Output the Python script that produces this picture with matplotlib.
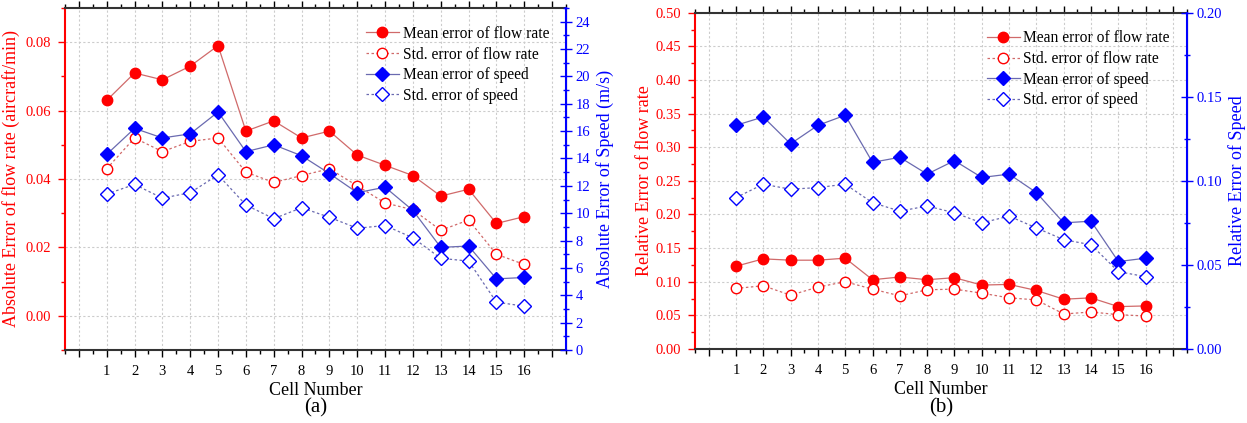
import matplotlib
matplotlib.use("Agg")
import matplotlib.pyplot as plt
from matplotlib.ticker import MultipleLocator, FixedLocator, FormatStrFormatter

plt.rcParams['font.family'] = ['Liberation Serif', 'DejaVu Serif']

cells = list(range(1, 17))

# Panel (a): absolute errors
abs_flow_mean = [0.063, 0.071, 0.069, 0.073, 0.079, 0.054, 0.057, 0.052,
                 0.054, 0.047, 0.044, 0.041, 0.035, 0.037, 0.027, 0.029]
abs_flow_std = [0.043, 0.052, 0.048, 0.051, 0.052, 0.042, 0.039, 0.041,
                0.043, 0.038, 0.033, 0.031, 0.025, 0.028, 0.018, 0.015]
abs_speed_mean = [14.3, 16.2, 15.5, 15.8, 17.4, 14.5, 15.0, 14.2,
                  12.9, 11.5, 11.9, 10.2, 7.5, 7.6, 5.2, 5.3]
abs_speed_std = [11.4, 12.1, 11.1, 11.5, 12.8, 10.6, 9.6, 10.4,
                 9.7, 8.9, 9.1, 8.2, 6.7, 6.5, 3.5, 3.2]

# Panel (b): relative errors
rel_flow_mean = [0.123, 0.134, 0.132, 0.132, 0.135, 0.103, 0.107, 0.103,
                 0.106, 0.095, 0.096, 0.087, 0.074, 0.076, 0.063, 0.064]
rel_flow_std = [0.090, 0.094, 0.080, 0.092, 0.100, 0.089, 0.079, 0.088,
                0.089, 0.083, 0.076, 0.073, 0.052, 0.055, 0.051, 0.049]
rel_speed_mean = [0.133, 0.138, 0.122, 0.133, 0.139, 0.111, 0.114, 0.104,
                  0.112, 0.102, 0.104, 0.093, 0.075, 0.076, 0.052, 0.054]
rel_speed_std = [0.090, 0.098, 0.095, 0.096, 0.098, 0.087, 0.082, 0.085,
                 0.081, 0.075, 0.079, 0.072, 0.065, 0.062, 0.046, 0.043]

legend_labels = ["Mean error of flow rate", "Std. error of flow rate",
                 "Mean error of speed", "Std. error of speed"]

RED = '#ff0000'
BLUE = '#0000ff'
RED_LINE = '#d06a6a'
BLUE_LINE = '#6a6ab0'
GRID = '#cccccc'
TICK_FS = 10.5

fig = plt.figure(figsize=(12.47, 4.23), dpi=100)


def style_common(ax, ax2):
    ax.set_xlim(-0.5, 17.5)
    ax.xaxis.set_major_locator(FixedLocator(list(range(0, 18))))
    ax.xaxis.set_minor_locator(FixedLocator([i + 0.5 for i in range(-1, 18)]))
    ax.set_xticklabels([''] + [str(c) for c in cells] + [''])
    ax.tick_params(axis='x', which='major', direction='out', length=5, width=1,
                   labelsize=TICK_FS, top=True, pad=6)
    ax.tick_params(axis='x', which='minor', direction='out', length=3, width=1,
                   top=True)
    ax.grid(True, which='major', color=GRID, linestyle=(0, (2, 2)), linewidth=0.8)
    ax.set_axisbelow(True)
    ax.spines['left'].set_color(RED)
    ax.spines['left'].set_linewidth(1.5)
    ax.spines['bottom'].set_linewidth(1.5)
    ax.spines['top'].set_linewidth(1.5)
    ax.spines['bottom'].set_color('#333333')
    ax.spines['top'].set_color('#333333')
    ax.tick_params(axis='y', which='both', colors=RED, labelcolor=RED,
                   labelsize=TICK_FS, pad=5)
    ax.tick_params(axis='y', which='major', length=5, width=1)
    ax.tick_params(axis='y', which='minor', length=3, width=1)
    ax2.spines['right'].set_color(BLUE)
    ax2.spines['right'].set_linewidth(1.5)
    ax2.spines['left'].set_visible(False)
    ax2.spines['top'].set_visible(False)
    ax2.spines['bottom'].set_visible(False)
    ax2.tick_params(axis='y', which='both', colors=BLUE, labelcolor=BLUE,
                    labelsize=TICK_FS, direction='inout', pad=3)
    ax2.tick_params(axis='y', which='major', length=8, width=1)
    ax2.tick_params(axis='y', which='minor', length=5, width=1)
    ax.set_xlabel("Cell Number", fontsize=13, labelpad=3)


def draw(ax, ax2, fm, fs, sm, ss):
    h1, = ax.plot(cells, fm, color=RED_LINE, lw=0.9, marker='o', ms=7.5,
                  mfc=RED, mec=RED, zorder=4)
    h2, = ax.plot(cells, fs, color=RED_LINE, lw=0.9, ls=(0, (2, 2)), marker='o',
                  ms=7.5, mfc='white', mec=RED, mew=1.0, zorder=4)
    h3, = ax2.plot(cells, sm, color=BLUE_LINE, lw=0.9, marker='D', ms=7,
                   mfc=BLUE, mec=BLUE, zorder=4)
    h4, = ax2.plot(cells, ss, color=BLUE_LINE, lw=0.9, ls=(0, (2, 2)), marker='D',
                   ms=7, mfc='white', mec=BLUE, mew=1.0, zorder=4)
    return [h1, h2, h3, h4]


def add_legend(ax, handles):
    ax.legend(handles, legend_labels, loc='upper right',
              bbox_to_anchor=(0.985, 0.975), frameon=False, fontsize=11.2,
              handlelength=2.1, handletextpad=0.25, labelspacing=0.3,
              borderaxespad=0.2)


# ---------- Panel (a) ----------
axa = fig.add_axes([0.0521, 0.1726, 0.4018, 0.8085])
axa2 = axa.twinx()
style_common(axa, axa2)
axa.set_ylim(-0.01, 0.09)
axa.yaxis.set_major_locator(FixedLocator([0.00, 0.02, 0.04, 0.06, 0.08]))
axa.yaxis.set_minor_locator(FixedLocator([-0.01, 0.01, 0.03, 0.05, 0.07, 0.09]))
axa.set_yticklabels(['0.00', '0.02', '0.04', '0.06', '0.08'])
axa2.set_ylim(0, 25)
axa2.yaxis.set_major_locator(MultipleLocator(2))
axa2.yaxis.set_minor_locator(MultipleLocator(1))
axa.set_ylabel("Absolute Error of flow rate (aircraft/min)", color=RED,
               fontsize=13, labelpad=4)
axa2.set_ylabel("Absolute Error of Speed (m/s)", color=BLUE, fontsize=13,
                labelpad=4)
ha = draw(axa, axa2, abs_flow_mean, abs_flow_std, abs_speed_mean, abs_speed_std)
add_legend(axa, ha)
fig.text(0.0521 + 0.4018 / 2, 1 - 408 / 423, "(a)", ha='center', va='center',
         fontsize=15)

# ---------- Panel (b) ----------
axb = fig.add_axes([0.5573, 0.175, 0.3943, 0.795])
axb2 = axb.twinx()
style_common(axb, axb2)
axb.set_ylim(0, 0.5)
axb.yaxis.set_major_locator(MultipleLocator(0.05))
axb.yaxis.set_minor_locator(MultipleLocator(0.025))
axb.yaxis.set_major_formatter(FormatStrFormatter('%.2f'))
axb2.set_ylim(0, 0.2)
axb2.yaxis.set_major_locator(MultipleLocator(0.05))
axb2.yaxis.set_minor_locator(MultipleLocator(0.025))
axb2.yaxis.set_major_formatter(FormatStrFormatter('%.2f'))
axb.set_ylabel("Relative Error of flow rate", color=RED, fontsize=13, labelpad=2)
axb2.set_ylabel("Relative Error of Speed", color=BLUE, fontsize=13, labelpad=4)
hb = draw(axb, axb2, rel_flow_mean, rel_flow_std, rel_speed_mean, rel_speed_std)
add_legend(axb, hb)
fig.text(0.5573 + 0.3943 / 2, 1 - 408 / 423, "(b)", ha='center', va='center',
         fontsize=15)

fig.savefig("out.png", dpi=100)
